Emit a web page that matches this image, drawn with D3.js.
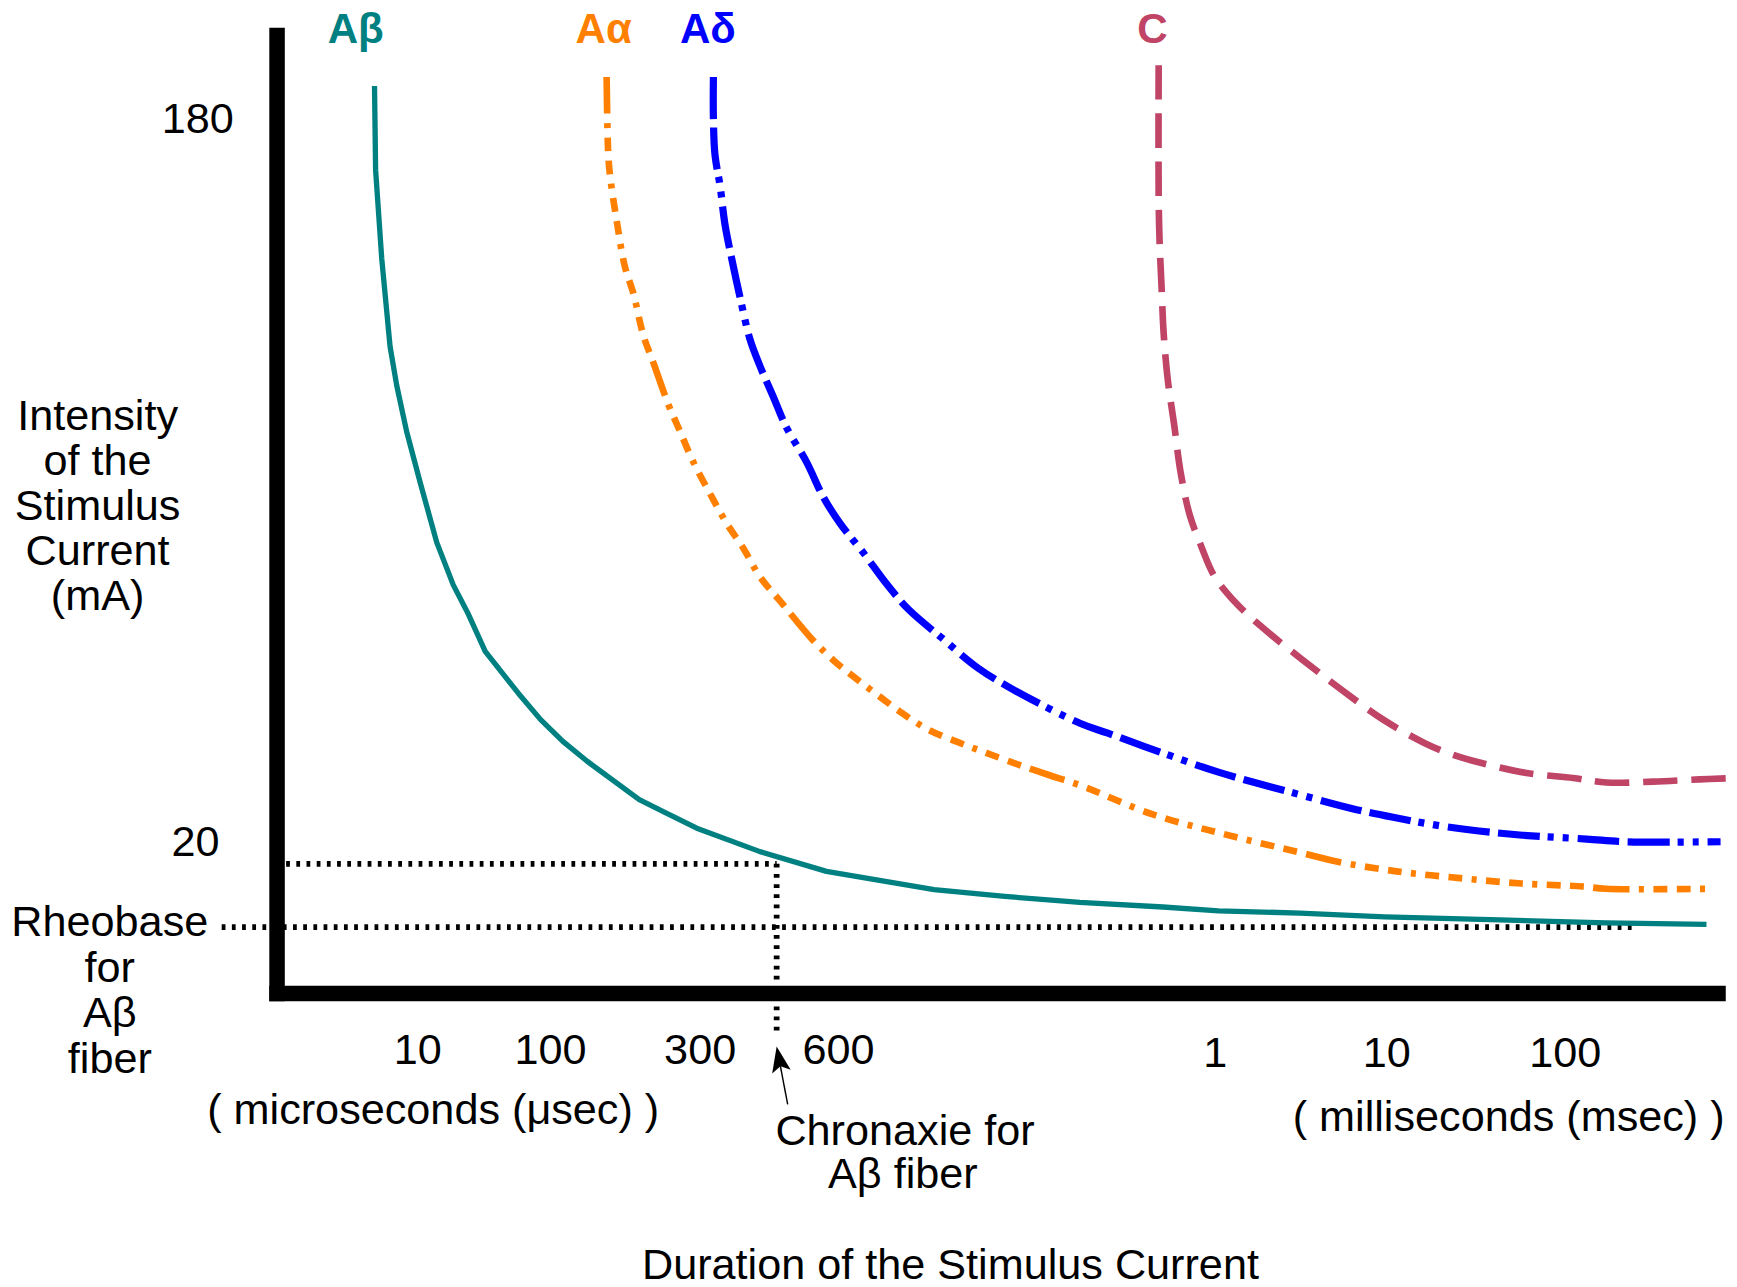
<!DOCTYPE html>
<html><head><meta charset="utf-8">
<script src="https://cdn.jsdelivr.net/npm/d3@7"></script>
<style>html,body{margin:0;padding:0;background:#fff;overflow:hidden}</style>
</head><body>
<svg id="chart"></svg>
<script>
// ---------- DATA ----------
const fiberNames = ["Aβ", "Aα", "Aδ", "C"];

// durations in microseconds, intensities in mA
const abDuration = [4.93, 5.02, 5.55, 6.36, 7.09, 8.34, 10.4, 13.9, 18.5, 23.7, 32.2, 57.3, 84.1, 109.4, 130.8, 191.8, 233.1, 292.6, 404.8, 564.6, 683, 751.6, 832.4, 931.7, 1045, 3115, 9707, 43000, 179900, 758600];
const abIntensity = [187.1, 168.5, 148.9, 129.5, 120.9, 110.7, 99.6, 86.2, 76.8, 70.7, 62.1, 52.8, 47.0, 42.2, 37.8, 29.3, 26.4, 23.0, 18.7, 16.1, 13.7, 12.8, 12.0, 11.4, 10.9, 10.6, 10.1, 9.7, 9.3, 9.1];

const aaDuration = [150.9, 152.6, 154.6, 162.5, 172.5, 183.6, 197.6, 212.6, 237.5, 258.6, 285.2, 317.8, 342.7, 372.4, 404.7, 452.2, 525.2, 583.6, 611.8, 630.8, 654.2, 678.3, 707.8, 733.7, 770.3, 798.8, 832.4, 917.9, 1045, 3513, 5095, 11340, 25700, 56910, 128900, 179900, 758600];
const aaIntensity = [189.1, 172.6, 167.5, 157.3, 147.2, 141.3, 132.0, 126.0, 116.7, 110.8, 104.0, 96.3, 90.4, 84.9, 78.6, 72.7, 64.8, 60.2, 56.6, 52.8, 48.4, 44.7, 41.8, 39.6, 36.7, 34.7, 32.5, 26.1, 22.0, 18.3, 17.4, 16.1, 15.2, 14.5, 14.1, 13.8, 13.8];

const adDuration = [320.6, 320.6, 323.2, 331.5, 339.7, 351.4, 366.3, 385.0, 404.7, 432.6, 462.2, 510.9, 555.3, 601.2, 621.1, 640.1, 659.6, 690.0, 725.0, 760.8, 832.4, 864.6, 931.7, 1045, 3115, 6665, 10850, 22560, 55620, 135900, 235300, 928200];
const adIntensity = [189.1, 179.8, 171.8, 165.0, 156.5, 148.9, 140.4, 131.1, 125.2, 118.4, 111.6, 104.0, 96.3, 90.4, 83.7, 77.1, 71.4, 65.1, 58.4, 53.6, 46.2, 44.0, 39.6, 35.4, 30.4, 27.1, 25.4, 23.2, 21.5, 20.6, 20.0, 20.0];

const cDuration = [926.2, 926.2, 927.3, 929.8, 932.6, 937.9, 946.0, 954.1, 966.0, 981.6, 998.3, 1268, 1894, 3186, 5358, 9522, 16330, 23550, 33970, 60800, 112100, 180800, 353400, 689600, 1000000];
const cIntensity = [191.7, 163.0, 153.1, 142.9, 132.2, 121.9, 112.1, 101.8, 92.3, 85.2, 78.9, 73.5, 67.3, 60.4, 53.8, 47.0, 41.8, 39.2, 37.4, 35.2, 34.1, 33.1, 33.3, 33.8, 34.0];

// axis ticks
const xBreaks = [1, 10, 100, 300, 600, 1000, 10000, 100000, 1000000];
const xTickValues = [10, 100, 300, 600, 1000, 10000, 100000];
const xTickLabels = ["10", "100", "300", "600", "1", "10", "100"];
const yTickValues = [180, 20];
const yTickLabels = ["180", "20"];
const yBreaks = [0, 20, 200];

// annotations (µs, mA)
const rheobaseMA = 8.75;
const rheobaseSpan = [0.404, 259300];
const chronaxieUS = 440;
const chronaxieMA = 17.1;
const chronaxieStartUS = 1.16;
const chronaxieBottomMA = -5.7;
const arrowTip = [440, -7.0];
const arrowTail = [465, -14.6];

// ---------- LAYOUT ----------
const W = 1737, H = 1287, VW = 1568, VH = 1162;
const FONT = "'Liberation Sans', Arial, Helvetica, sans-serif";
const FS = 39;

const svg = d3.select("#chart").attr("width", W).attr("height", H)
  .attr("viewBox", `0 0 ${VW} ${VH}`);
svg.append("rect").attr("width", VW).attr("height", VH).attr("fill", "#fff");

const x = d3.scaleLog().domain(xBreaks)
  .range([250, 377, 497, 632, 757, 1097, 1252, 1413, 1558]);
const y = d3.scaleLinear().domain(yBreaks).range([897, 760, 25]);

const series = [
  {name: fiberNames[0], d: abDuration, v: abIntensity, color: "#008080", width: 4.8, dash: null, ldx: -17, smooth: false},
  {name: fiberNames[1], d: aaDuration, v: aaIntensity, color: "#FF8000", width: 6, dash: "33,8.5,4.5,8.5,12.5,8.5,12.5,8.5,4.5,8.5,12.5,8.5,12.5,8.5,4.5,8.5,12.5,8.5,12.5,8.5,4.5,8.5,12.5,8.5,12.5,8.5", ldx: -2.6, smooth: true},
  {name: fiberNames[2], d: adDuration, v: adIntensity, color: "#0000FF", width: 6.5, dash: "38,7.5,38,7,5.5,8,5.5,8", ldx: -5, smooth: true},
  {name: fiberNames[3], d: cDuration, v: cIntensity, color: "#BF4465", width: 6, dash: "31,12.5", ldx: -5.5, smooth: true}
];

// dotted guide lines
const dotted = svg.append("g").attr("stroke", "#000").attr("stroke-width", 5.2)
  .attr("stroke-dasharray", "3.4,5.8").attr("fill", "none");
dotted.append("line")
  .attr("x1", x(rheobaseSpan[0])).attr("x2", x(rheobaseSpan[1]))
  .attr("y1", y(rheobaseMA)).attr("y2", y(rheobaseMA));
dotted.append("line")
  .attr("x1", x(chronaxieStartUS)).attr("x2", x(chronaxieUS))
  .attr("y1", y(chronaxieMA)).attr("y2", y(chronaxieMA));
dotted.append("line")
  .attr("x1", x(chronaxieUS)).attr("x2", x(chronaxieUS))
  .attr("y1", y(chronaxieMA)).attr("y2", y(chronaxieBottomMA));

// curves
const lineSmooth = d3.line().x(p => x(p[0])).y(p => y(p[1])).curve(d3.curveCatmullRom.alpha(0.5));
const lineStraight = d3.line().x(p => x(p[0])).y(p => y(p[1]));
series.forEach(s => {
  const pts = s.d.map((d, i) => [d, s.v[i]]);
  svg.append("path").datum(pts).attr("d", s.smooth ? lineSmooth : lineStraight)
    .attr("fill", "none").attr("stroke", s.color).attr("stroke-width", s.width)
    .attr("stroke-linejoin", "round").attr("stroke-linecap", "butt")
    .attr("stroke-dasharray", s.dash);
  svg.append("text").attr("x", x(s.d[0]) + s.ldx).attr("y", 39)
    .attr("text-anchor", "middle").attr("font-family", FONT)
    .attr("font-weight", "bold").attr("font-size", 38)
    .attr("fill", s.color).text(s.name);
});

// axes (thick bars)
const x0 = x(xBreaks[0]), y0 = y(0);
svg.append("line").attr("x1", x0).attr("x2", x0)
  .attr("y1", y(yBreaks[2])).attr("y2", y0 + 7)
  .attr("stroke", "#000").attr("stroke-width", 14);
svg.append("line").attr("x1", x0 - 7).attr("x2", x(xBreaks[xBreaks.length - 1]))
  .attr("y1", y0).attr("y2", y0)
  .attr("stroke", "#000").attr("stroke-width", 14);

// text helper
function txt(t, tx, ty, anchor) {
  return svg.append("text").attr("x", tx).attr("y", ty)
    .attr("text-anchor", anchor || "middle").attr("font-family", FONT)
    .attr("font-size", FS).attr("fill", "#000").text(t);
}

// x tick labels
xTickValues.forEach((v, i) => txt(xTickLabels[i], x(v), v >= 1000 ? 963 : 961));
// y tick labels
const yTickRight = [211, 198];
yTickValues.forEach((v, i) => txt(yTickLabels[i], yTickRight[i], y(v) + 13, "end"));

// unit labels
txt("( microseconds (μsec) )", 391, 1015);
txt("( milliseconds (msec) )", 1362, 1021);
txt("Duration of the Stimulus Current", 858, 1155);

// y title
["Intensity", "of the", "Stimulus", "Current", "(mA)"].forEach((t, i) => txt(t, 88, 388 + i * 40.7));
// rheobase label
["Rheobase", "for", "Aβ", "fiber"].forEach((t, i) => txt(t, 99, 845 + i * 41.3));
// chronaxie label
txt("Chronaxie for", 817, 1034);
txt("Aβ fiber", 815, 1073);

// arrow
const tip = [x(arrowTip[0]), y(arrowTip[1])];
const tail = [x(arrowTail[0]), y(arrowTail[1])];
const dx = tip[0] - tail[0], dy = tip[1] - tail[1];
const len = Math.hypot(dx, dy);
const ux = dx / len, uy = dy / len, nx = -uy, ny = ux;
const headL = 23, headW = 8.5, notch = 18;
const base = [tip[0] - ux * headL, tip[1] - uy * headL];
svg.append("line").attr("x1", tail[0]).attr("y1", tail[1])
  .attr("x2", tip[0] - ux * notch).attr("y2", tip[1] - uy * notch)
  .attr("stroke", "#000").attr("stroke-width", 1.3);
svg.append("path").attr("fill", "#000").attr("d",
  `M${tip[0]},${tip[1]} L${base[0] + nx * headW},${base[1] + ny * headW} ` +
  `L${tip[0] - ux * notch},${tip[1] - uy * notch} L${base[0] - nx * headW},${base[1] - ny * headW} Z`);
</script>
</body></html>
